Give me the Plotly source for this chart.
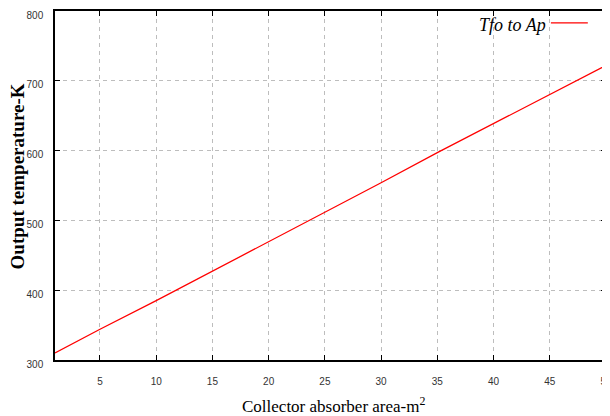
import plotly.graph_objects as go

area = [1, 5, 10, 15, 20, 25, 30, 35, 40, 45, 50]
temp = [310, 344, 385, 427, 470, 512, 554, 597, 639, 681, 722]
x_ticks = [5, 10, 15, 20, 25, 30, 35, 40, 45, 50]
y_ticks = [300, 400, 500, 600, 700, 800]
series_name = "Tfo to Ap"
x_title = "Collector absorber area-m<sup>2</sup>"
y_title = "<b>Output temperature-K</b>"

fig = go.Figure()
fig.add_trace(go.Scatter(x=area, y=temp, mode="lines", name=series_name,
                         line=dict(color="#ff0000", width=1.3), showlegend=False))

axis_common = dict(showline=True, linecolor="black", linewidth=1.5, mirror="ticks",
                   ticks="inside", ticklen=5, tickcolor="black", automargin=False,
                   ticklabeloverflow="allow",
                   showgrid=True, gridcolor="#bdbdbd", griddash="4px,4px", gridwidth=1,
                   zeroline=False,
                   tickfont=dict(family="Liberation Sans", size=10, color="#333333"))

fig.update_xaxes(range=[1, 50], tickvals=x_ticks, ticklabelstandoff=11, **axis_common)
fig.update_yaxes(range=[300, 800], tickvals=y_ticks, ticklabelstandoff=8,
                 ticklabelshift=4, **axis_common)

fig.add_annotation(xref="paper", yref="paper", x=0.505, y=-0.129, xanchor="center", yanchor="middle",
                   text=x_title, showarrow=False,
                   font=dict(family="Liberation Serif", size=17, color="black"))
fig.add_annotation(xref="paper", yref="paper", x=-0.069, y=0.526, xanchor="center", yanchor="middle",
                   text=y_title, showarrow=False, textangle=-90,
                   font=dict(family="Liberation Serif", size=19, color="black"))

fig.add_annotation(xref="paper", yref="paper", x=0.895, y=0.96, xanchor="right", yanchor="middle",
                   text="<i>" + series_name + "</i>", showarrow=False,
                   font=dict(family="Liberation Serif", size=18, color="black"))
fig.add_shape(type="line", xref="paper", yref="paper", x0=0.900, x1=0.967, y0=0.966, y1=0.966,
              line=dict(color="#ff0000", width=1.3))

fig.update_layout(width=602, height=408, margin=dict(l=47, r=4, t=3, b=56),
                  plot_bgcolor="white", paper_bgcolor="white")
fig.write_html("out.html")
